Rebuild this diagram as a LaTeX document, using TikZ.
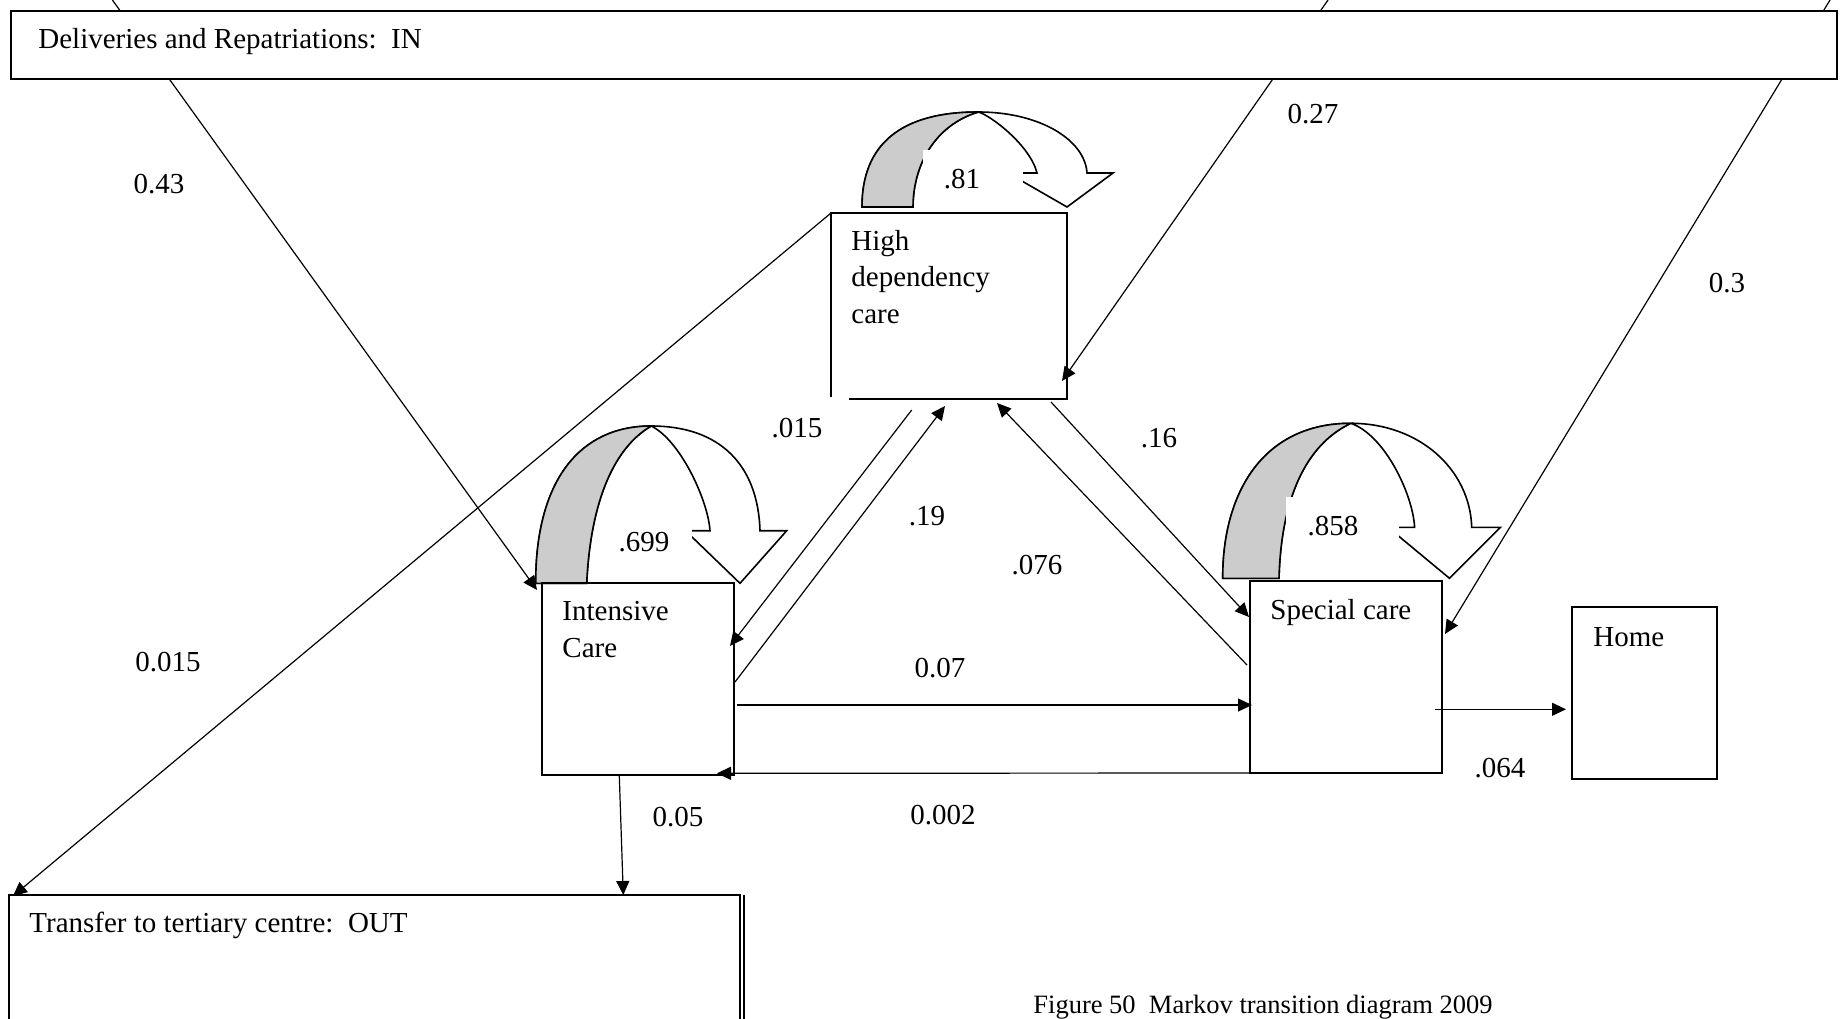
\documentclass[tikz,border=0pt]{standalone}
\usepackage{fontspec}
\setmainfont{Liberation Serif}
\usetikzlibrary{arrows.meta,calc}
\newcommand\lbsize{\fontsize{14.5pt}{18.35pt}\selectfont}
\newcommand\figcapfont{\fontsize{13.25pt}{16pt}\selectfont}
\begin{document}
\begin{tikzpicture}[x=0.5pt,y=-0.5pt,
  box/.style={draw,line width=0.8pt,inner sep=0pt,outer sep=0pt,anchor=north west},
  conn/.style={line width=0.6pt,-{Triangle[length=7pt,width=6.5pt]}},
  lbl/.style={inner sep=0pt,font=\lbsize},
  txt/.style={inner sep=0pt,anchor=base west,font=\lbsize},
  mtxt/.style={inner sep=0pt,anchor=north west,align=left,font=\lbsize},
  loopline/.style={line width=0.8pt,line join=miter},
  loopgray/.style={line width=0.8pt,fill=gray!40}
]
\useasboundingbox (0,0) rectangle (1841,1018);

% ---- self loops ----
% Intensive care loop
\filldraw[loopline,fill=white] (535.7,583.3) .. controls (535.7,480) and (580,426) .. (651.2,426)
  .. controls (720,426) and (758,465) .. (760,530.7)
  -- (786.7,530.7) -- (740,583.3) -- (685.5,530.7) -- (710,530.7)
  .. controls (708,500) and (680,440) .. (651.2,426)
  .. controls (610,450) and (590,510) .. (586.7,583.3) -- cycle;
\filldraw[loopgray] (535.7,583.3) .. controls (535.7,480) and (580,426) .. (651.2,426)
  .. controls (610,450) and (590,510) .. (586.7,583.3) -- cycle;
\fill[white] (605,512) rectangle (691.7,560);
% High dependency loop
\filldraw[loopline,fill=white] (862,207) .. controls (862,145) and (900,112) .. (978.3,112)
  .. controls (1040,112) and (1085,140) .. (1087,173)
  -- (1113,173) -- (1067,207) -- (1008,173) -- (1037,173)
  .. controls (1030,145) and (990,115) .. (978.3,112)
  .. controls (935,125) and (913,165) .. (913,207) -- cycle;
\filldraw[loopgray] (862,207) .. controls (862,145) and (900,112) .. (978.3,112)
  .. controls (935,125) and (913,165) .. (913,207) -- cycle;
\fill[white] (923,150) rectangle (1023,205);
% Special care loop
\filldraw[loopline,fill=white] (1222.7,578.3) .. controls (1222.7,490) and (1265,423.3) .. (1350.8,423.3)
  .. controls (1420,423.3) and (1470,470) .. (1471.7,527.3)
  -- (1500.5,527.3) -- (1449.5,578.3) -- (1388,527.3) -- (1414.6,527.3)
  .. controls (1413,495) and (1385,435) .. (1350.8,423.3)
  .. controls (1305,445) and (1281,500) .. (1279,578.3) -- cycle;
\filldraw[loopgray] (1222.7,578.3) .. controls (1222.7,490) and (1265,423.3) .. (1350.8,423.3)
  .. controls (1305,445) and (1281,500) .. (1279,578.3) -- cycle;
\fill[white] (1286,497) rectangle (1399.3,560);

% ---- boxes ----
\node[box,draw=none,minimum width=118pt,minimum height=93pt] (hdc) at (831,213) {};
\draw[line width=0.8pt] ($(hdc.south west)+(18,0)$) -- (hdc.south east) -- (hdc.north east)
  -- (hdc.north west) -- ($(hdc.south west)+(0,-2)$);
\node[box,minimum width=96pt,minimum height=96pt] (ic) at (542,583) {};
\node[box,minimum width=96pt,minimum height=96pt] (sc) at (1250,581) {};
\node[box,minimum width=72.5pt,minimum height=86pt] (home) at (1572,607) {};
\node[box,minimum width=365.5pt,minimum height=75pt] (out) at (9,895) {};
\draw[line width=0.8pt] ($(out.north east)+(4,0)$) -- ($(out.south east)+(4,0)$);

% ---- connectors from IN ----
\coordinate (s1) at (112.4,0);
\coordinate (s2) at (1328,0);
\coordinate (s3) at (1830,0);
\draw[conn] (s1) -- ($(ic.north west)+(-5,7)$);
\draw[conn] (s2) -- ($(hdc.south east)+(-5,-18)$);
\draw[conn] (s3) -- ($(sc.north east)+(3,53)$);
\node[box,fill=white,minimum width=913pt,minimum height=34pt] (in) at (11,11) {};

% ---- other connectors ----
\draw[conn] (hdc.north west) -- ($(out.north west)+(4,1)$);
\draw[conn] ($(hdc.south west)+(80.7,11)$) -- ($(ic.north east)+(-4,63)$);
\draw[conn] ($(ic.north east)+(1,99)$) -- ($(hdc.south west)+(114,7)$);
\draw[conn] ($(sc.north west)+(-3,84)$) -- ($(hdc.south west)+(166,4)$);
\draw[conn] ($(hdc.south east)+(-16,3)$) -- ($(sc.north west)+(-1,36)$);
\draw[conn] ($(ic.north east)+(3,122)$) -- ($(sc.north west)+(2,124)$);
\draw[conn] ($(sc.south west)+(-1,0)$) -- ($(ic.south east)+(-17,-1.7)$);
\draw[conn] ($(ic.south west)+(77.3,1)$) -- ($(out.north west)+(614.3,0)$);
\draw[conn] ($(sc.north east)+(-7,128.3)$) -- ($(home.north west)+(-6,102.3)$);

% ---- box texts ----
\node[txt] (tin) at (38,48) {Deliveries and Repatriations:\ \ IN};
\node[mtxt] (thdc) at (851,229.5) {High\\dependency\\care};
\node[mtxt] (tic) at (562,600.8) {Intensive\\Care};
\node[txt] (tsc) at (1270,619) {Special care};
\node[txt] (thome) at (1593,646) {Home};
\node[txt] (tout) at (29,932) {Transfer to tertiary centre:\ \ OUT};
\node[txt,font=\figcapfont] (cap) at (1033,1013) {Figure 50\ \ Markov transition diagram 2009};

% ---- probabilities ----
\node[lbl] (l043) at (159,184) {0.43};
\node[lbl] (l027) at (1313,114) {0.27};
\node[lbl] (l03) at (1727,283) {0.3};
\node[lbl] (l0015) at (168,662) {0.015};
\node[lbl] (l015) at (797,428) {.015};
\node[lbl] (l19) at (927,516) {.19};
\node[lbl] (l076) at (1037,565) {.076};
\node[lbl] (l16) at (1159,438) {.16};
\node[lbl] (l007) at (940,668) {0.07};
\node[lbl] (l0002) at (943,815) {0.002};
\node[lbl] (l005) at (678,817) {0.05};
\node[lbl] (l064) at (1500,768) {.064};
\node[lbl] (l81) at (962,179) {.81};
\node[lbl] (l699) at (644,542) {.699};
\node[lbl] (l858) at (1333,526) {.858};
\end{tikzpicture}
\end{document}
